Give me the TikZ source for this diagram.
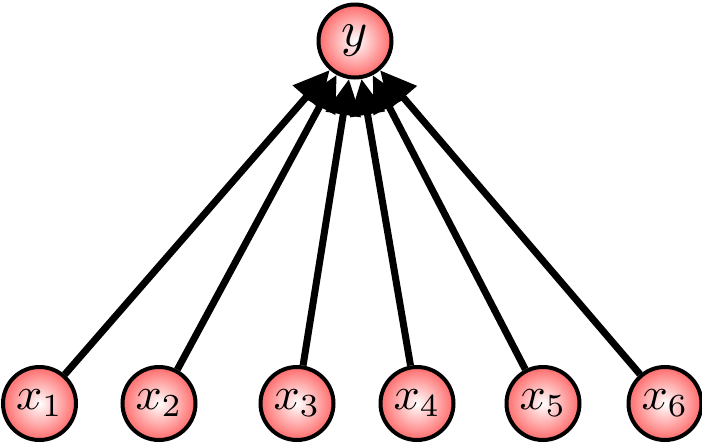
\documentclass[tikz,border=0pt]{standalone}
\usepackage{graphicx}
\usetikzlibrary{arrows.meta}
\newcommand{\bigmath}[2]{\scalebox{#1}{$#2$}}
\begin{document}
\begin{tikzpicture}[x=1pt,y=-1pt,
  var/.style={circle,draw=black,line width=4pt,minimum size=73pt,inner sep=0pt,
    shading=radial,inner color=white,outer color=red!58!white},
  edge/.style={line width=7pt,-{Triangle[length=36pt,width=34pt]}}]
\useasboundingbox (0,0) rectangle (702,445);
\node[var] (y) at (355,41) {\bigmath{5}{y}};
\node[var] (x1) at (39.5,403.5) {\bigmath{4.6}{x_1}};
\node[var] (x2) at (159,403.5) {\bigmath{4.6}{x_2}};
\node[var] (x3) at (297,403.5) {\bigmath{4.6}{x_3}};
\node[var] (x4) at (417,403.5) {\bigmath{4.6}{x_4}};
\node[var] (x5) at (543,403.5) {\bigmath{4.6}{x_5}};
\node[var] (x6) at (665,403.5) {\bigmath{4.6}{x_6}};
\foreach \i in {1,...,6} {
  \draw[edge] (x\i) -- (y);
}
\end{tikzpicture}
\end{document}
